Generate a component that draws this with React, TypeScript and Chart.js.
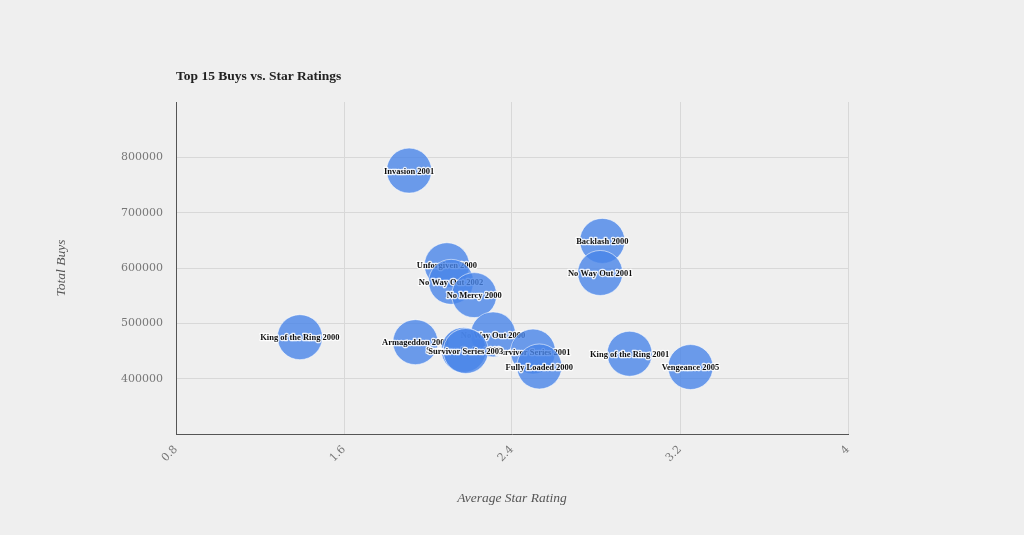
import React, { useEffect, useRef } from 'react';
import { Chart, registerables } from 'chart.js';

Chart.register(...registerables);

// Draw order: earlier entries are painted first (underneath later ones)
const eventNames = [
  'King of the Ring 2000',
  'Invasion 2001',
  'Unforgiven 2000',
  'No Way Out 2002',
  'No Mercy 2000',
  'Armageddon 2000',
  'No Way Out 2000',
  'Survivor Series 2001',
  'Fully Loaded 2000',
  'Survivor Series 2002',
  'Survivor Series 2003',
  'Backlash 2000',
  'No Way Out 2001',
  'King of the Ring 2001',
  'Vengeance 2005',
];
const starRatings = [1.39, 1.91, 2.09, 2.11, 2.22, 1.94, 2.31, 2.5, 2.53, 2.17, 2.18, 2.83, 2.82, 2.96, 3.25];
const totalBuys = [475000, 776000, 605000, 575000, 551000, 466000, 480000, 449000, 422000, 452000, 450000, 649000, 591000, 445000, 421000];

const xTickValues = [0.8, 1.6, 2.4, 3.2, 4];
const yTickValues = [400000, 500000, 600000, 700000, 800000];

const chartTitle = 'Top 15 Buys vs. Star Ratings';
const xAxisTitle = 'Average Star Rating';
const yAxisTitle = 'Total Buys';

const bubbleLabelPlugin = {
  id: 'bubbleLabels',
  afterDatasetDraw(chart: any, args: any) {
    const el = args.meta.data[0];
    if (!el) return;
    const ds = chart.data.datasets[args.index];
    const ctx = chart.ctx;
    ctx.save();
    ctx.font = 'bold 8.5px "Liberation Serif"';
    ctx.textAlign = 'center';
    ctx.textBaseline = 'middle';
    ctx.lineJoin = 'round';
    ctx.lineWidth = 2.5;
    ctx.strokeStyle = 'rgba(255,255,255,0.85)';
    ctx.strokeText(ds.label, el.x, el.y + 1);
    ctx.fillStyle = '#111';
    ctx.fillText(ds.label, el.x, el.y + 1);
    ctx.restore();
  },
};

const textPlugin = {
  id: 'chartTexts',
  afterDraw(chart: any) {
    const ctx = chart.ctx;
    const area = chart.chartArea;
    ctx.save();
    ctx.fillStyle = '#222';
    ctx.font = 'bold 13.5px "Liberation Serif"';
    ctx.textAlign = 'left';
    ctx.textBaseline = 'middle';
    ctx.fillText(chartTitle, area.left, 77);

    ctx.fillStyle = '#555';
    ctx.font = 'italic 13.5px "Liberation Serif"';
    ctx.textAlign = 'center';
    ctx.fillText(xAxisTitle, (area.left + area.right) / 2, 498);

    ctx.translate(61, 268);
    ctx.rotate(-Math.PI / 2);
    ctx.fillText(yAxisTitle, 0, 0);
    ctx.restore();
  },
};

const bgPlugin = {
  id: 'bg',
  beforeDraw(chart: any) {
    const ctx = chart.ctx;
    ctx.save();
    ctx.fillStyle = '#efefef';
    ctx.fillRect(0, 0, chart.width, chart.height);
    ctx.restore();
  },
};

export default function App() {
  const ref = useRef<HTMLCanvasElement | null>(null);

  useEffect(() => {
    if (!ref.current) return;
    const n = eventNames.length;
    const datasets = eventNames.map((name, i) => ({
      label: name,
      data: [{ x: starRatings[i], y: totalBuys[i], r: 22.5 }],
      backgroundColor: 'rgba(72,132,232,0.8)',
      borderColor: 'rgba(255,255,255,0.55)',
      borderWidth: 1,
      order: n - i,
    }));

    const tickFont = { family: '"DejaVu Serif"', size: 11 };

    const chart = new Chart(ref.current, {
      type: 'bubble',
      data: { datasets },
      options: {
        animation: false,
        responsive: false,
        devicePixelRatio: 1,
        events: [],
        layout: { padding: { top: 102, right: 176, left: 0, bottom: 0 } },
        plugins: {
          legend: { display: false },
          tooltip: { enabled: false },
          title: { display: false },
        },
        scales: {
          x: {
            type: 'linear',
            min: 0.8,
            max: 4,
            afterBuildTicks: (s: any) => {
              s.ticks = xTickValues.map((v) => ({ value: v }));
            },
            afterFit: (s: any) => {
              s.height = 101;
            },
            ticks: {
              minRotation: 45,
              maxRotation: 45,
              padding: 9,
              color: '#777',
              font: tickFont,
              callback: (v: any) => String(v),
            },
            grid: { color: '#d8d8d8', drawTicks: false },
            border: { color: '#555', width: 1 },
          },
          y: {
            type: 'linear',
            min: 300000,
            max: 900000,
            afterBuildTicks: (s: any) => {
              s.ticks = yTickValues.map((v) => ({ value: v }));
            },
            afterFit: (s: any) => {
              s.width = 176;
            },
            ticks: {
              padding: 13,
              color: '#777',
              font: tickFont,
              callback: (v: any) => String(v),
            },
            grid: { color: '#d8d8d8', drawTicks: false },
            border: { color: '#555', width: 1 },
          },
        },
      },
      plugins: [bgPlugin, bubbleLabelPlugin, textPlugin],
    } as any);

    return () => chart.destroy();
  }, []);

  return (
    <div style={{ position: 'fixed', left: 0, top: 0, width: 1024, height: 535, background: '#efefef' }}>
      <canvas ref={ref} width={1024} height={535} style={{ display: 'block' }} />
    </div>
  );
}
